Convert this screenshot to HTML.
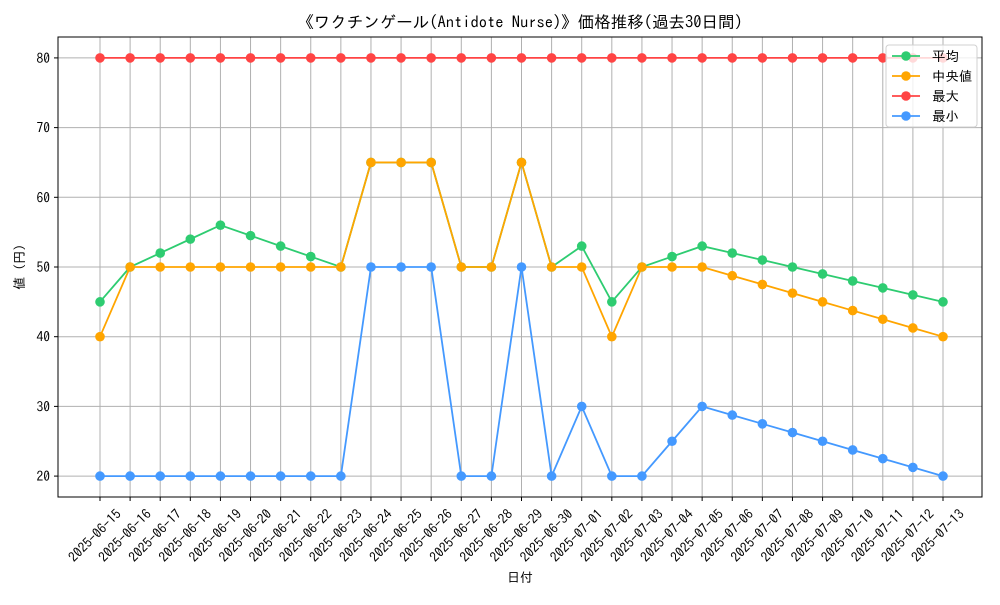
<!DOCTYPE html>
<html><head><meta charset="utf-8"><style>
body{margin:0;background:#fff}
svg text{font-family:"IPAGothic","Liberation Sans","Noto Sans CJK JP",sans-serif;fill:#000}
</style></head><body>
<svg id="chart" width="1000" height="600" xmlns="http://www.w3.org/2000/svg">
<rect width="1000" height="600" fill="#fff"/>
<g id="grid"></g>
<g id="series"></g>
<rect x="58" y="37" width="924" height="460" fill="none" stroke="#000" stroke-width="1"/>
<g id="axes"></g>
<text x="520" y="28" font-size="16.5" text-anchor="middle">《ワクチンゲール(Antidote Nurse)》価格推移(過去30日間)</text>
<text x="520" y="582" font-size="13" text-anchor="middle">日付</text>
<text x="24" y="267" font-size="13" text-anchor="middle" transform="rotate(-90 24 267)">値 (円)</text>
<g id="legend"></g>
</svg>
<script>
const dates=["2025-06-15","2025-06-16","2025-06-17","2025-06-18","2025-06-19","2025-06-20","2025-06-21","2025-06-22","2025-06-23","2025-06-24","2025-06-25","2025-06-26","2025-06-27","2025-06-28","2025-06-29","2025-06-30","2025-07-01","2025-07-02","2025-07-03","2025-07-04","2025-07-05","2025-07-06","2025-07-07","2025-07-08","2025-07-09","2025-07-10","2025-07-11","2025-07-12","2025-07-13"];
const avgVals=[45,50,52,54,56,54.5,53,51.5,50,65,65,65,50,50,65,50,53,45,50,51.5,53,52,51,50,49,48,47,46,45];
const medVals=[40,50,50,50,50,50,50,50,50,65,65,65,50,50,65,50,50,40,50,50,50,48.75,47.5,46.25,45,43.75,42.5,41.25,40];
const maxVals=[80,80,80,80,80,80,80,80,80,80,80,80,80,80,80,80,80,80,80,80,80,80,80,80,80,80,80,80,80];
const minVals=[20,20,20,20,20,20,20,20,20,50,50,50,20,20,50,20,30,20,20,25,30,28.75,27.5,26.25,25,23.75,22.5,21.25,20];
const yTicks=[20,30,40,50,60,70,80];
const NS="http://www.w3.org/2000/svg";
const xs=i=>100+i*(843/28);
const ys=v=>497-(v-17)*(460/66);
function mk(tag,attrs,parent){const e=document.createElementNS(NS,tag);for(const k in attrs)e.setAttribute(k,attrs[k]);parent.appendChild(e);return e;}
const grid=document.getElementById('grid'),axes=document.getElementById('axes'),ser=document.getElementById('series'),leg=document.getElementById('legend');
dates.forEach((d,i)=>{
 const x=xs(i);
 const g=mk('line',{x1:x,x2:x,y1:37,y2:497,stroke:'#b0b0b0','stroke-width':1},grid);
 
 
 const t=mk('line',{x1:x,x2:x,y1:497,y2:501,stroke:'#000'},axes);
 
 
 const lx=x+22,ly=515;
 const tx=mk('text',{x:lx,y:ly,'font-size':13.5,'text-anchor':'end',transform:`rotate(-45 ${lx} ${ly})`},axes);
 tx.textContent=d;
 
 
});
yTicks.forEach(v=>{
 const y=ys(v);
 const g=mk('line',{x1:58,x2:982,y1:y,y2:y,stroke:'#b0b0b0','stroke-width':1},grid);
 
 
 const t=mk('line',{x1:54,x2:58,y1:y,y2:y,stroke:'#000'},axes);
 
 
 const tx=mk('text',{x:50,y:y+5,'font-size':13.5,'text-anchor':'end'},axes);
 tx.textContent=v;
 
 
});
const series=[["平均",avgVals,"#2ecc71"],["中央値",medVals,"#ffa500"],["最大",maxVals,"#ff4444"],["最小",minVals,"#4499ff"]];
series.forEach(([name,vals,col])=>{
 const g=mk('g',{},ser);
 
 
 const p=mk('polyline',{points:vals.map((v,i)=>xs(i)+','+ys(v)).join(' '),fill:'none',stroke:col,'stroke-width':1.8},g);
 
 
 vals.forEach((v,i)=>{
  const c=mk('circle',{cx:xs(i),cy:ys(v),r:4.8,fill:col},g);
  
  
 });
});
const lb=mk('rect',{x:886,y:45,width:91,height:82,rx:3,fill:'#fff','fill-opacity':0.8,stroke:'#d0d0d0'},leg);


series.forEach(([name,vals,col],k)=>{
 const y=56+k*20;
 const g=mk('g',{},leg);
 
 
 mk('line',{x1:892,x2:920,y1:y,y2:y,stroke:col,'stroke-width':1.8},g);
 mk('circle',{cx:906,cy:y,r:4.8,fill:col},g);
 const t=mk('text',{x:932,y:y+5,'font-size':13.5},g);
 t.textContent=name;
});
</script>
</body></html>
